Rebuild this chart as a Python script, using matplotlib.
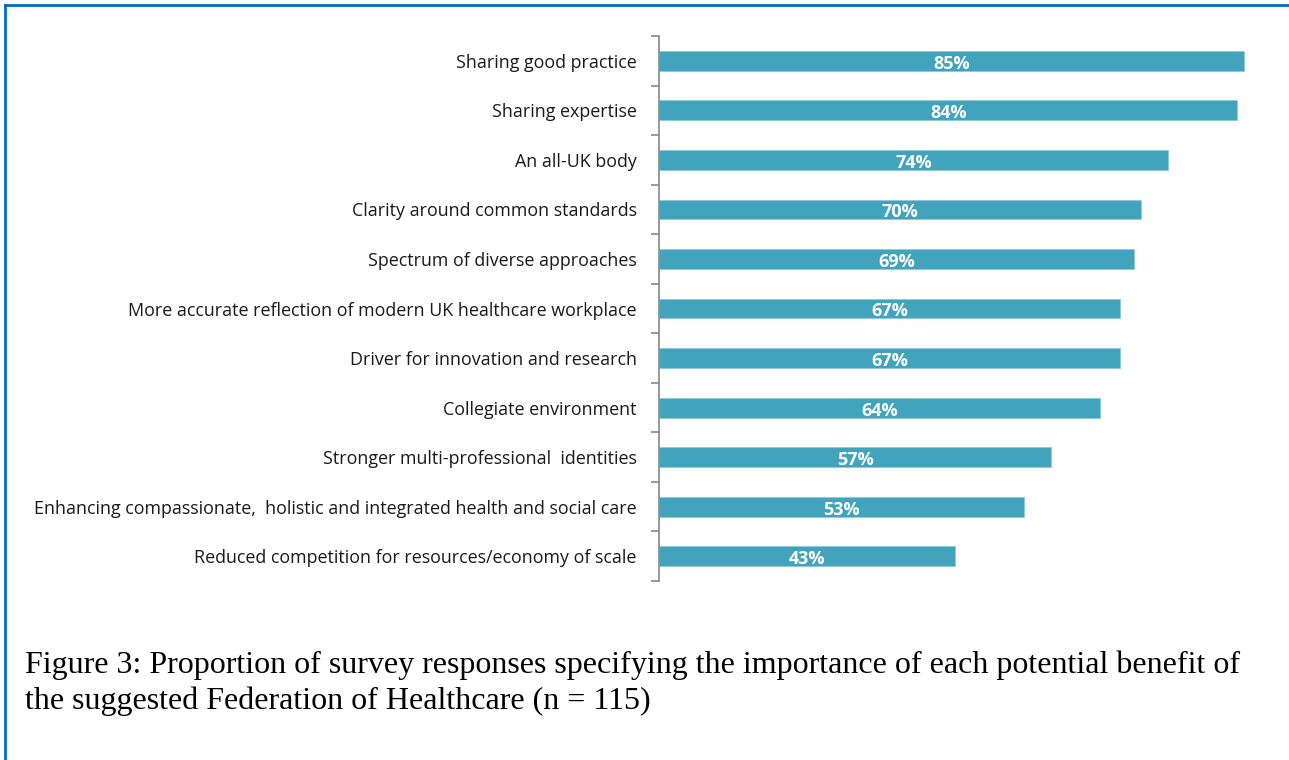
import matplotlib
matplotlib.use("Agg")
import matplotlib.pyplot as plt
import numpy as np
from matplotlib.lines import Line2D

categories = [
    "Sharing good practice",
    "Sharing expertise",
    "An all-UK body",
    "Clarity around common standards",
    "Spectrum of diverse approaches",
    "More accurate reflection of modern UK healthcare workplace",
    "Driver for innovation and research",
    "Collegiate environment",
    "Stronger multi-professional  identities",
    "Enhancing compassionate,  holistic and integrated health and social care",
    "Reduced competition for resources/economy of scale",
]
values = [85, 84, 74, 70, 69, 67, 67, 64, 57, 53, 43]
caption = ("Figure 3: Proportion of survey responses specifying the importance of each potential benefit of\n"
           "the suggested Federation of Healthcare (n = 115)")

W, H = 1289, 760
fig = plt.figure(figsize=(W / 100, H / 100), dpi=100)
ax = fig.add_axes([659 / W, 1 - 581 / H, 621 / W, (581 - 36) / H])

n = len(categories)
y = np.arange(n)
ax.barh(y, values, height=0.4, color="#41a4bc", edgecolor="#8ccbdb", linewidth=0.6)
for yi, v in zip(y, values):
    ax.text(v / 2, yi + 0.06, f"{v}%", ha="center", va="center", color="white",
            fontsize=13, fontweight="bold", family="Open Sans")

ax.set_xlim(0, 90.2)
ax.set_ylim(n - 0.5, -0.5)
ax.set_yticks(y)
ax.set_yticklabels(categories, fontsize=12.9, family="Open Sans", color="#1a1a1a")
ax.tick_params(axis="y", which="major", length=0, pad=16)
ax.set_yticks(np.arange(-0.5, n, 1), minor=True)
ax.tick_params(axis="y", which="minor", length=6, width=1.2, color="#888888")
ax.set_xticks([])
for s in ["top", "right", "bottom"]:
    ax.spines[s].set_visible(False)
ax.spines["left"].set_color("#888888")
ax.spines["left"].set_linewidth(1.2)

fig.text(25 / W, 1 - 650 / H, caption, ha="left", va="top", fontsize=23,
         family="Liberation Serif", color="black", linespacing=1.3)

# blue frame lines (top and left)
fig.add_artist(Line2D([5 / W, 1], [1 - 5 / H, 1 - 5 / H], color="#0070c0", lw=2, transform=fig.transFigure))
fig.add_artist(Line2D([5 / W, 5 / W], [0, 1 - 5 / H], color="#0070c0", lw=2, transform=fig.transFigure))

fig.savefig("out.png", dpi=100)
